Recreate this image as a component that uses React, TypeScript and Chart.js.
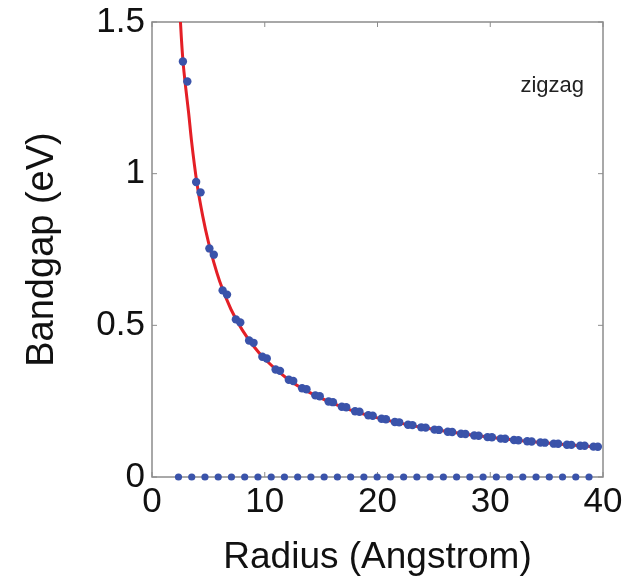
import React, { useEffect, useRef } from "react";
import { Chart, registerables } from "chart.js";

Chart.register(...registerables);

// Semiconducting zigzag tubes: radius (Angstrom) and bandgap (eV)
const semiRadius = [
  2.741, 3.132, 3.915, 4.307, 5.09, 5.481, 6.264, 6.656, 7.439, 7.83, 8.613, 9.005,
  9.788, 10.18, 10.963, 11.354, 12.137, 12.529, 13.312, 13.703, 14.486, 14.878,
  15.661, 16.052, 16.835, 17.227, 18.01, 18.401, 19.184, 19.576, 20.359, 20.751,
  21.534, 21.925, 22.708, 23.1, 23.883, 24.274, 25.057, 25.449, 26.232, 26.623,
  27.406, 27.798, 28.581, 28.972, 29.755, 30.147, 30.93, 31.321, 32.104, 32.496,
  33.279, 33.67, 34.453, 34.845, 35.628, 36.019, 36.803, 37.194, 37.977, 38.369,
  39.152, 39.543,
];
const semiGap = [
  1.37, 1.304, 0.9725, 0.9384, 0.7536, 0.733, 0.6152, 0.6013, 0.5196, 0.5097, 0.4498,
  0.4423, 0.3965, 0.3907, 0.3545, 0.3499, 0.3205, 0.3167, 0.2925, 0.2894, 0.269,
  0.2663, 0.249, 0.2467, 0.2317, 0.2297, 0.2167, 0.215, 0.2036, 0.202, 0.1919, 0.1905,
  0.1815, 0.1802, 0.1721, 0.171, 0.1637, 0.1627, 0.1561, 0.1552, 0.1491, 0.1483,
  0.1428, 0.142, 0.1369, 0.1362, 0.1315, 0.1309, 0.1266, 0.126, 0.1219, 0.1214,
  0.1177, 0.1171, 0.1137, 0.1132, 0.1099, 0.1095, 0.1064, 0.106, 0.1032, 0.1028,
  0.1001, 0.0997,
];

// Metallic zigzag tubes (zero gap)
const metalRadius = [
  2.349, 3.524, 4.698, 5.873, 7.047, 8.222, 9.397, 10.571, 11.746, 12.92, 14.095,
  15.269, 16.444, 17.618, 18.793, 19.967, 21.142, 22.317, 23.491, 24.666, 25.84,
  27.015, 28.189, 29.364, 30.538, 31.713, 32.887, 34.062, 35.237, 36.411, 37.586, 38.76,
];
const metalGap = metalRadius.map(() => 0);

// Fitted curve (red)
const fitRadius = [
  2.45, 2.6, 2.75, 3, 3.25, 3.5, 4, 4.5, 5, 6, 7, 8, 9, 10, 12, 14, 17, 20, 24, 28, 32, 36, 39.5,
];
const fitGap = [
  1.55, 1.45, 1.37, 1.28, 1.2, 1.11, 0.965, 0.86, 0.775, 0.645, 0.553, 0.485, 0.432,
  0.389, 0.324, 0.278, 0.229, 0.195, 0.163, 0.14, 0.1225, 0.109, 0.0992,
];

const xTicks = [0, 10, 20, 30, 40];
const yTicks = [0, 0.5, 1, 1.5];
const yTickLabels = ["0", "0.5", "1", "1.5"];
const xTitle = "Radius (Angstrom)";
const yTitle = "Bandgap (eV)";
const annotation = { text: "zigzag", x: 35.5, y: 1.29 };

const BLUE = "#3a53aa";
const RED = "#e41f26";
const AXIS = "#8c8c8c";
const FONT = "'Liberation Sans', Arial, Helvetica, sans-serif";

const boxPlugin = {
  id: "boxPlugin",
  beforeDatasetsDraw(chart: any) {
    const { ctx, chartArea: a, scales } = chart;
    ctx.save();
    ctx.strokeStyle = AXIS;
    ctx.lineWidth = 1.5;
    ctx.strokeRect(a.left, a.top, a.right - a.left, a.bottom - a.top);
    const tl = 5;
    ctx.beginPath();
    xTicks.forEach((v) => {
      const px = scales.x.getPixelForValue(v);
      ctx.moveTo(px, a.bottom);
      ctx.lineTo(px, a.bottom - tl);
      ctx.moveTo(px, a.top);
      ctx.lineTo(px, a.top + tl);
    });
    yTicks.forEach((v) => {
      const py = scales.y.getPixelForValue(v);
      ctx.moveTo(a.left, py);
      ctx.lineTo(a.left + tl, py);
      ctx.moveTo(a.right, py);
      ctx.lineTo(a.right - tl, py);
    });
    ctx.lineWidth = 1;
    ctx.stroke();
    ctx.restore();
  },
  afterDraw(chart: any) {
    const { ctx, scales } = chart;
    ctx.save();
    ctx.font = `22px ${FONT}`;
    ctx.fillStyle = "#222";
    ctx.textAlign = "center";
    ctx.textBaseline = "middle";
    ctx.fillText(
      annotation.text,
      scales.x.getPixelForValue(annotation.x),
      scales.y.getPixelForValue(annotation.y)
    );
    ctx.restore();
  },
};

export default function App() {
  const ref = useRef<HTMLCanvasElement>(null);
  useEffect(() => {
    if (!ref.current) return;
    const chart = new Chart(ref.current, {
      type: "scatter",
      data: {
        datasets: [
          {
            label: "semiconducting",
            data: semiRadius.map((r, i) => ({ x: r, y: semiGap[i] })),
            backgroundColor: BLUE,
            borderColor: BLUE,
            pointRadius: 4.2,
            pointBorderWidth: 0,
            showLine: false,
            clip: false,
          },
          {
            label: "metallic",
            data: metalRadius.map((r, i) => ({ x: r, y: metalGap[i] })),
            backgroundColor: BLUE,
            borderColor: BLUE,
            pointRadius: 3.6,
            pointBorderWidth: 0,
            showLine: false,
            clip: false,
          },
          {
            label: "fit",
            data: fitRadius.map((r, i) => ({ x: r, y: fitGap[i] })),
            borderColor: RED,
            backgroundColor: RED,
            borderWidth: 3,
            pointRadius: 0,
            showLine: true,
            cubicInterpolationMode: "monotone",
          } as any,
        ],
      },
      options: {
        animation: false,
        responsive: true,
        maintainAspectRatio: false,
        layout: { padding: { top: 22, right: 27, bottom: 0, left: 0 } },
        plugins: {
          legend: { display: false },
          tooltip: { enabled: false },
        },
        scales: {
          x: {
            type: "linear",
            min: 0,
            max: 40,
            afterBuildTicks: (s: any) => {
              s.ticks = xTicks.map((v) => ({ value: v }));
            },
            afterFit: (s: any) => {
              s.height = 108;
            },
            grid: { display: false, drawTicks: false },
            border: { display: false },
            ticks: {
              padding: 4,
              color: "#111",
              font: { family: FONT, size: 35 },
              maxRotation: 0,
            },
            title: {
              display: true,
              text: xTitle,
              color: "#111",
              font: { family: FONT, size: 37 },
              padding: { top: 0, bottom: 5 },
            },
          },
          y: {
            type: "linear",
            min: 0,
            max: 1.5,
            afterBuildTicks: (s: any) => {
              s.ticks = yTicks.map((v) => ({ value: v }));
            },
            afterFit: (s: any) => {
              s.width = 152;
              s.paddingTop = 0;
              s.paddingBottom = 0;
            },
            grid: { display: false, drawTicks: false },
            border: { display: false },
            ticks: {
              padding: 7,
              color: "#111",
              font: { family: FONT, size: 35, lineHeight: 0.6 },
              callback: (_v: any, i: number) => yTickLabels[i],
            },
            title: {
              display: true,
              text: yTitle,
              color: "#111",
              font: { family: FONT, size: 38 },
              padding: { top: 20, bottom: 0 },
            },
          },
        },
      },
      plugins: [boxPlugin],
    });
    return () => chart.destroy();
  }, []);
  return (
    <div style={{ position: "fixed", left: 0, top: 0, width: 630, height: 585, background: "#fff" }}>
      <canvas ref={ref} />
    </div>
  );
}
